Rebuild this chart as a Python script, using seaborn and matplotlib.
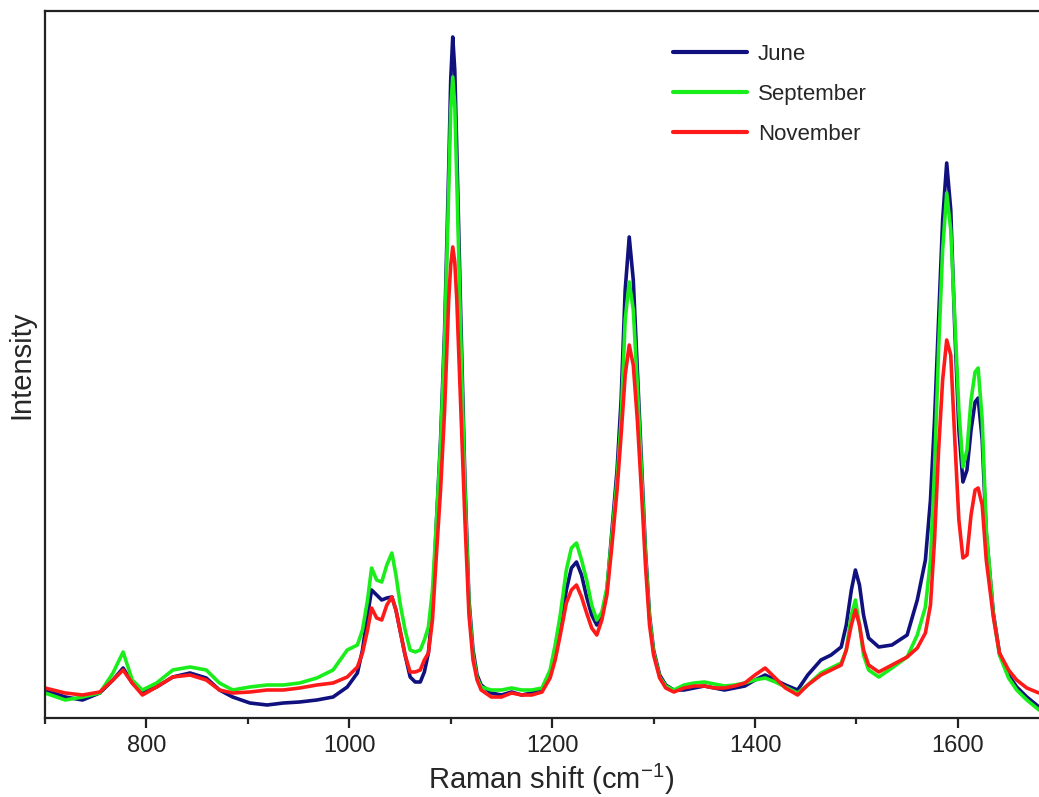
import numpy as np
import pandas as pd
import matplotlib
matplotlib.use("Agg")
import matplotlib.pyplot as plt
import seaborn as sns
from matplotlib.ticker import MultipleLocator

# Raman shift positions (cm-1)
shift = [700, 720, 737, 754, 767, 777, 786, 796, 810, 826, 843, 859, 872, 885, 902, 919, 935, 951, 968, 984,
         998, 1008, 1013, 1018, 1022, 1027, 1032, 1037, 1042, 1046, 1050, 1055, 1060, 1065, 1070, 1074, 1078, 1082, 1086,
         1090, 1094, 1098, 1100, 1102, 1104, 1106, 1110, 1114, 1118, 1122, 1126, 1130,
         1140, 1150, 1160, 1170, 1180, 1190, 1198, 1203, 1208, 1214, 1219, 1224, 1229, 1234, 1239, 1244, 1249, 1254,
         1259, 1264, 1268, 1272, 1276, 1280, 1284, 1288, 1292, 1296, 1300, 1306, 1312, 1320,
         1330, 1340, 1350, 1360, 1370, 1380, 1390, 1400, 1410, 1420, 1430, 1442, 1452, 1465, 1475, 1485, 1490, 1495,
         1499, 1503, 1507, 1512, 1522, 1535, 1550, 1560, 1568, 1573, 1577, 1581, 1585, 1589, 1593, 1597, 1601, 1605,
         1609, 1613, 1617, 1620, 1624, 1628, 1635, 1641, 1650, 1658, 1668, 1680]

june = [28, 21, 18, 25, 38, 50, 35, 25, 31, 41, 45, 40, 28, 21, 15, 13, 15, 16, 18, 21,
        31, 45, 68, 103, 128, 123, 118, 120, 121, 108, 88, 63, 41, 36, 36, 46, 65, 108, 198,
        278, 388, 548, 638, 681, 648, 568, 398, 238, 118, 68, 43, 33,
        25, 23, 26, 23, 25, 28, 43, 63, 88, 128, 150, 156, 143, 121, 103, 93, 103, 128,
        188, 248, 318, 428, 481, 438, 348, 258, 168, 103, 68, 43, 33, 28,
        28, 30, 32, 30, 28, 30, 32, 38, 43, 38, 33, 28, 43, 58, 63, 71, 93, 128,
        148, 133, 103, 80, 71, 73, 83, 118, 158, 218, 298, 398, 498, 555, 508, 388, 288, 236,
        248, 288, 316, 320, 278, 185, 105, 65, 43, 31, 21, 11]

september = [25, 18, 21, 25, 45, 66, 38, 28, 35, 48, 51, 48, 35, 28, 31, 33, 33, 35, 40, 48,
             68, 73, 88, 118, 150, 138, 136, 153, 165, 143, 115, 88, 68, 66, 68, 78, 91, 128, 198,
             273, 378, 528, 608, 641, 613, 538, 378, 228, 113, 63, 40, 31,
             28, 28, 30, 28, 28, 30, 48, 73, 103, 148, 170, 175, 158, 138, 113, 98, 106, 130,
             183, 238, 298, 398, 436, 408, 333, 248, 163, 100, 66, 41, 32, 28,
             33, 35, 36, 34, 32, 33, 35, 38, 40, 36, 31, 25, 33, 45, 50, 55, 68, 103,
             118, 93, 63, 48, 41, 50, 61, 83, 111, 158, 248, 368, 468, 525, 488, 398, 308, 251,
             268, 318, 346, 350, 298, 188, 103, 63, 40, 28, 18, 8]

november = [30, 25, 23, 26, 38, 48, 35, 23, 31, 41, 43, 38, 28, 25, 26, 28, 28, 30, 33, 35,
            41, 51, 65, 88, 110, 100, 98, 113, 121, 108, 88, 63, 46, 46, 48, 58, 65, 98, 165,
            228, 308, 418, 453, 471, 456, 418, 308, 198, 103, 58, 38, 28,
            21, 21, 25, 23, 23, 26, 40, 58, 83, 115, 128, 133, 121, 105, 90, 83, 98, 123,
            173, 228, 283, 343, 373, 353, 298, 228, 153, 93, 63, 40, 30, 26,
            30, 32, 32, 30, 30, 32, 35, 43, 50, 40, 30, 23, 33, 43, 48, 53, 68, 93,
            108, 93, 68, 53, 46, 53, 61, 70, 85, 113, 178, 268, 338, 378, 363, 278, 198, 160,
            163, 203, 228, 230, 213, 158, 101, 65, 48, 38, 30, 25]

series_names = ["June", "September", "November"]
colors = ["#10107e", "#1aee1a", "#ff1a1a"]

assert len(shift) == len(june) == len(september) == len(november)

df = pd.concat([
    pd.DataFrame({"shift": shift, "intensity": vals, "month": name})
    for name, vals in zip(series_names, [june, september, november])
], ignore_index=True)

sns.set_style("ticks")
plt.rcParams["font.family"] = ["Liberation Sans", "DejaVu Sans"]
plt.rcParams["mathtext.default"] = "regular"

fig = plt.figure(figsize=(10.39, 7.97), dpi=100)
ax = fig.add_axes([45 / 1039, 1 - 718 / 797, 1 - 45 / 1039, (718 - 11) / 797])

sns.lineplot(data=df, x="shift", y="intensity", hue="month", hue_order=series_names,
             palette=colors, linewidth=2.6, ax=ax, sort=False, estimator=None)

ax.set_xlim(700, 1680)
ax.set_ylim(0, 707)
ax.set_yticks([])
ax.xaxis.set_major_locator(MultipleLocator(200))
ax.xaxis.set_minor_locator(MultipleLocator(100))
ax.tick_params(axis="x", which="major", length=7, width=1.6, labelsize=17, pad=5, colors="#222")
ax.tick_params(axis="x", which="minor", length=4, width=1.6)
for side in ["left", "top", "bottom"]:
    ax.spines[side].set_visible(True)
    ax.spines[side].set_linewidth(1.6)
    ax.spines[side].set_color("#222")
ax.spines["right"].set_visible(False)

ax.set_xlabel("Raman shift (cm$^{-1}$)", fontsize=21)
ax.xaxis.set_label_coords((551 - 45) / 994, -0.062)
ax.set_ylabel("Intensity", fontsize=21, labelpad=7)

leg = ax.legend(loc="upper left", bbox_to_anchor=(673 / 1039, 1 - 44 / 797),
                bbox_transform=fig.transFigure, frameon=False, fontsize=16,
                handlelength=3.33, handletextpad=0.5, labelspacing=0.85,
                borderpad=0, borderaxespad=0)
for line in leg.get_lines():
    line.set_linewidth(3)

fig.savefig("out.png", dpi=100)
